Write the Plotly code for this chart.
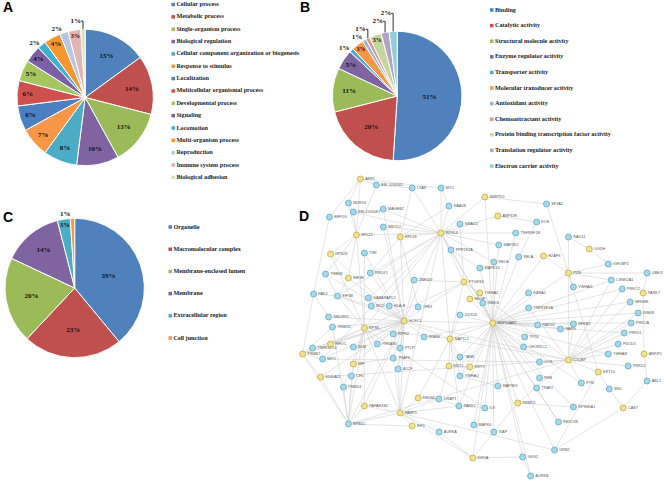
import plotly.graph_objects as go

# ---------------- data ----------------
bp_labels = ["Cellular process", "Metabolic process", "Single-organism process", "Biological regulation",
             "Cellular component organization or biogenesis", "Response to stimulus", "Localization",
             "Multicellular organismal process", "Developmental process", "Signaling", "Locomotion",
             "Multi-organism process", "Reproduction", "Immune system process", "Biological adhesion"]
bp_values = [15, 14, 13, 10, 8, 7, 6, 6, 5, 4, 2, 4, 2, 3, 1]
bp_colors = ["#4F81BD", "#C0504D", "#9BBB59", "#8064A2", "#4BACC6", "#F79646", "#4A7FC1",
             "#CF514E", "#A3C65E", "#7D5FA6", "#3FB0CF", "#F7962E", "#B4C8E6", "#E3B4B4", "#D5E3B8"]

mf_labels = ["Binding", "Catalytic activity", "Structural molecule activity", "Enzyme regulator activity",
             "Transporter activity", "Molecular transducer activity", "Antioxidant activity",
             "Chemoattractant activity", "Protein binding transcription factor activity",
             "Translation regulator activity", "Electron carrier activity"]
mf_values = [51, 20, 11, 5, 1, 3, 1, 1, 3, 2, 2]
mf_colors = ["#4F81BD", "#C0504D", "#9BBB59", "#8064A2", "#4BACC6", "#F79646", "#95B3D7",
             "#D99694", "#C3D69B", "#B3A2C7", "#93CDDD"]

cc_labels = ["Organelle", "Macromolecular complex", "Membrane-enclosed lumen", "Membrane",
             "Extracellular region", "Cell junction"]
cc_values = [39, 23, 20, 14, 3, 1]
cc_colors = ["#4F81BD", "#C0504D", "#9BBB59", "#8064A2", "#4BACC6", "#F79646"]

node_names = ["ARF1", "EBI-1056061", "LYAR", "MYC", "SNRPD1", "SF3A2", "NDRG1", "EBI-1056087", "MAGEB2",
              "NAA38", "EEF1G", "ANP32E", "FOS", "SMYD2", "SMAD2", "TNFRSF1B", "RPL22", "RPL26", "RPS14",
              "RAD51", "UGDH", "MAP3K1", "PPP2R2A", "RELA", "H2AFX", "RELB", "MAPK14", "TNK", "RPS28",
              "PXN", "IGF2BP2", "UBE2I", "TMBIM", "EIF3E", "PRDX1", "ZNF207", "PTGES3", "CSNK2A1",
              "YWHAG", "PRKCZ", "PARK7", "YWHAZ", "EBNA1", "PAK2", "EIF1B", "GABARAPL2", "HDGF", "IKBKG",
              "TNFRSF1A", "NFKBIE", "MCC", "HLA-B", "TFE3", "IKBKB", "SMURF2", "DDX24", "HSP90AB1",
              "HCFC1", "PRKCA", "TRIM32", "RPS6", "RAD50", "NFKB2", "NAPG", "RIPK2", "PRKD1", "IKBKE",
              "NAP1L1", "TP53", "RHOC", "PRKAB1", "CHORDC1", "PDCD5", "TNFRSF14", "BLM", "PTLP", "PSMB7",
              "MPO", "TRAF6", "YWHAB", "C1QBP", "ARFIP1", "PRKD2", "MIF", "TANK", "KRT1", "KRT9", "A1CF",
              "COIL", "KRT10", "YWHAQ", "CH1", "S100A11", "PHB", "FYN", "ABL1", "PSMD4", "MAP3K3", "TRAF2",
              "SRC", "PFDN5", "DRAP1", "PRMT5", "PAFAH1B2", "PARK2", "ILK", "RPS6KA1", "CAST", "FABP5",
              "FBXO38", "EPB41", "EIF1", "MAPK6", "AURKA", "XIAP", "GRB2", "KIF2A", "GSG2", "AURKB"]
node_x = [359, 375, 411, 440, 484, 546, 347, 352, 382, 448, 328, 497, 536, 382, 459, 515, 355, 399, 440,
          568, 589, 498, 450, 518, 543, 493, 479, 363, 329, 568, 608, 647, 324, 347, 369, 413, 463, 611,
          573, 622, 643, 479, 528, 312, 336, 367, 469, 482, 528, 630, 370, 388, 417, 638, 327, 459, 492,
          403, 631, 331, 363, 537, 573, 560, 392, 624, 423, 449, 524, 329, 376, 523, 618, 311, 352, 399, 301,
          321, 392, 608, 568, 644, 628, 352, 459, 448, 469, 397, 539, 598, 459, 350, 319, 539, 581, 647,
          342, 497, 536, 609, 417, 438, 517, 363, 458, 484, 573, 623, 399, 558, 347, 411, 473, 438, 493,
          554, 472, 522, 530]
node_y = [179, 185, 188, 188, 197, 204, 203, 212, 209, 206, 217, 216, 222, 227, 224, 233, 235, 237, 233,
          237, 249, 245, 250, 257, 256, 262, 268, 253, 254, 273, 264, 273, 274, 278, 273, 280, 282, 280,
          287, 289, 293, 293, 293, 294, 296, 298, 299, 303, 308, 302, 306, 306, 307, 313, 317, 315, 323,
          321, 323, 327, 328, 325, 324, 329, 334, 333, 337, 339, 337, 344, 344, 347, 344, 348, 347, 348, 354,
          359, 358, 354, 360, 354, 366, 364, 357, 366, 367, 369, 362, 372, 376, 376, 377, 378, 383, 381,
          387, 386, 388, 389, 398, 399, 403, 406, 406, 408, 407, 408, 413, 422, 424, 426, 425, 432, 432,
          450, 458, 457, 476]
yellow_nodes = ["ARF1", "SNRPD1", "ANP32E", "RPL22", "RPL26", "RPS14", "UGDH", "H2AFX", "RPS28", "PXN",
                "EIF3E", "PTGES3", "PARK7", "YWHAZ", "HDGF", "HSP90AB1", "HCFC1", "RPS6", "NAP1L1", "RHOC",
                "PSMB7", "C1QBP", "ARFIP1", "MIF", "KRT1", "KRT9", "KRT10", "S100A11", "PFDN5", "PRMT5",
                "PAFAH1B2", "CAST", "FABP5", "EIF1", "KIF2A"]

edges = [
    ("ARF1", "EBI-1056061"), ("ARF1", "NDRG1"), ("ARF1", "EEF1G"), ("ARF1", "RPL22"), ("ARF1", "MYC"),
    ("EBI-1056061", "LYAR"), ("EBI-1056061", "RPL22"), ("LYAR", "RPS14"), ("LYAR", "RPL26"),
    ("MYC", "RPS14"), ("MYC", "NAA38"), ("SNRPD1", "SF3A2"), ("SNRPD1", "RPS14"), ("SNRPD1", "HSP90AB1"),
    ("SF3A2", "PXN"), ("ANP32E", "FOS"), ("ANP32E", "RPS14"), ("FOS", "RELA"), ("NAA38", "RPS14"),
    ("NAA38", "RPL26"), ("MAGEB2", "RPS14"), ("MAGEB2", "HCFC1"), ("NDRG1", "RPL22"),
    ("EBI-1056087", "RPL22"), ("EBI-1056087", "RPS14"), ("SMYD2", "RPS14"), ("SMYD2", "HCFC1"),
    ("SMAD2", "RPS14"), ("SMAD2", "PTGES3"), ("EEF1G", "PAK2"), ("TNFRSF1B", "HSP90AB1"),
    ("TNFRSF1B", "RPS14"), ("RPL22", "RPS28"), ("RPL22", "EIF3E"), ("RPL22", "TMBIM"), ("RPL22", "RPS6"),
    ("RPL26", "HCFC1"), ("RPL26", "RPS14"), ("RPL26", "PRDX1"), ("RPL26", "TFE3"),
    ("RPS14", "PRDX1"), ("RPS14", "HCFC1"), ("RPS14", "RPS6"), ("RPS14", "NAP1L1"), ("RPS14", "PTGES3"),
    ("RPS14", "MAP3K1"), ("RPS14", "PPP2R2A"), ("RPS14", "RELB"), ("RPS14", "HSP90AB1"),
    ("RPS14", "EIF1B"), ("RPS14", "GABARAPL2"), ("RPS14", "RPL22"), ("RPS14", "FABP5"), ("RPS14", "MPO"),
    ("RAD51", "UGDH"), ("RAD51", "PXN"), ("UGDH", "IGF2BP2"), ("IGF2BP2", "PXN"), ("PXN", "UBE2I"),
    ("PXN", "YWHAG"), ("PXN", "H2AFX"), ("PXN", "CSNK2A1"), ("PXN", "HSP90AB1"), ("PXN", "C1QBP"),
    ("UBE2I", "PARK7"), ("H2AFX", "HSP90AB1"), ("RELA", "HSP90AB1"), ("RELB", "HSP90AB1"),
    ("MAP3K1", "HSP90AB1"), ("MAPK14", "HSP90AB1"), ("PPP2R2A", "HSP90AB1"), ("PPP2R2A", "MAPK14"),
    ("CSNK2A1", "HSP90AB1"), ("CSNK2A1", "C1QBP"), ("PRKCZ", "HSP90AB1"), ("PRKCZ", "C1QBP"),
    ("PARK7", "ARFIP1"), ("NFKBIE", "HSP90AB1"), ("NFKBIE", "C1QBP"), ("IKBKB", "HSP90AB1"),
    ("IKBKB", "C1QBP"), ("PRKCA", "HSP90AB1"), ("PRKCA", "C1QBP"), ("PRKD1", "C1QBP"),
    ("PRKD1", "HSP90AB1"), ("PDCD5", "C1QBP"), ("YWHAB", "C1QBP"), ("YWHAB", "HSP90AB1"),
    ("PRKD2", "C1QBP"), ("ARFIP1", "ABL1"), ("ABL1", "CAST"), ("CAST", "SRC"), ("CAST", "GRB2"),
    ("SRC", "KRT10"), ("KRT10", "C1QBP"), ("KRT10", "PXN"), ("FYN", "C1QBP"), ("FYN", "HSP90AB1"),
    ("EBNA1", "HSP90AB1"), ("TNFRSF1A", "HSP90AB1"), ("TNFRSF1A", "C1QBP"), ("NFKB2", "HSP90AB1"),
    ("NFKB2", "C1QBP"), ("NAPG", "HSP90AB1"), ("RAD50", "HSP90AB1"), ("TP53", "HSP90AB1"),
    ("CHORDC1", "HSP90AB1"), ("COIL", "HSP90AB1"), ("COIL", "C1QBP"), ("PHB", "HSP90AB1"),
    ("TRAF2", "HSP90AB1"), ("MAP3K3", "HSP90AB1"), ("PRMT5", "HSP90AB1"), ("RPS6KA1", "HSP90AB1"),
    ("RPS6KA1", "PRMT5"), ("FBXO38", "HSP90AB1"), ("GRB2", "HSP90AB1"), ("GSG2", "HSP90AB1"),
    ("AURKB", "HSP90AB1"), ("KIF2A", "HSP90AB1"), ("XIAP", "HSP90AB1"), ("MAPK6", "HSP90AB1"),
    ("ILK", "HSP90AB1"), ("PARK2", "HSP90AB1"), ("YWHAQ", "HSP90AB1"), ("KRT9", "HSP90AB1"),
    ("TANK", "HSP90AB1"), ("DDX24", "HSP90AB1"), ("IKBKG", "HSP90AB1"), ("HDGF", "HSP90AB1"),
    ("YWHAZ", "HSP90AB1"), ("PTGES3", "HSP90AB1"), ("NAP1L1", "HSP90AB1"), ("HCFC1", "HSP90AB1"),
    ("IKBKE", "HSP90AB1"), ("GSG2", "KIF2A"), ("GSG2", "AURKB"), ("KIF2A", "FABP5"), ("KIF2A", "AURKA"),
    ("EIF1", "EPB41"), ("EIF1", "FABP5"), ("EPB41", "PAFAH1B2"), ("EPB41", "PSMD4"), ("EPB41", "S100A11"),
    ("EPB41", "PSMB7"), ("EPB41", "FABP5"), ("EPB41", "RPS6"), ("EPB41", "MIF"), ("EPB41", "CH1"),
    ("EPB41", "HCFC1"), ("EPB41", "TRIM32"), ("FABP5", "HCFC1"), ("FABP5", "PFDN5"), ("FABP5", "DRAP1"),
    ("FABP5", "PARK2"), ("FABP5", "TRAF6"), ("FABP5", "A1CF"), ("FABP5", "RPS6"), ("FABP5", "PAFAH1B2"),
    ("FABP5", "GRB2"), ("FABP5", "AURKA"), ("PSMB7", "TNFRSF14"), ("PSMB7", "PAK2"), ("PSMB7", "S100A11"),
    ("PSMB7", "MPO"), ("PSMB7", "TRIM32"), ("PSMB7", "HCFC1"), ("PAK2", "EIF1B"), ("PAK2", "SMURF2"),
    ("TMBIM", "EIF1B"), ("TMBIM", "HCFC1"), ("EIF3E", "EIF1B"), ("EIF3E", "HCFC1"), ("EIF1B", "HCFC1"),
    ("EIF1B", "RPS6"), ("EIF1B", "MCC"), ("SMURF2", "HCFC1"), ("TRIM32", "HCFC1"), ("RPS6", "HCFC1"),
    ("RPS6", "PRKAB1"), ("RHOC", "HCFC1"), ("RHOC", "RPS6"), ("TNFRSF14", "HCFC1"), ("BLM", "HCFC1"),
    ("MPO", "HCFC1"), ("MIF", "HCFC1"), ("MIF", "TRAF6"), ("S100A11", "HCFC1"), ("CH1", "RPS6"),
    ("PSMD4", "RPS6"), ("PAFAH1B2", "HCFC1"), ("PAFAH1B2", "RPS6"), ("GABARAPL2", "HCFC1"),
    ("MCC", "HCFC1"), ("HLA-B", "HCFC1"), ("TFE3", "HCFC1"), ("ZNF207", "HCFC1"), ("PRDX1", "HCFC1"),
    ("TNK", "HCFC1"), ("TNK", "RPS6"), ("RPS28", "RPS6"), ("RPS28", "HCFC1"), ("RIPK2", "HCFC1"),
    ("PRKAB1", "HCFC1"), ("PTLP", "HCFC1"), ("TRAF6", "HCFC1"), ("A1CF", "HCFC1"), ("IKBKE", "HCFC1"),
    ("HCFC1", "NAP1L1"), ("HCFC1", "PTGES3"), ("HCFC1", "C1QBP"), ("NAP1L1", "PTGES3"),
    ("NAP1L1", "KRT1"), ("NAP1L1", "TANK"), ("NAP1L1", "YWHAQ"), ("NAP1L1", "DDX24"), ("NAP1L1", "C1QBP"),
    ("NAP1L1", "PFDN5"), ("NAP1L1", "PARK2"), ("NAP1L1", "RPS6"), ("PTGES3", "ZNF207"),
    ("PTGES3", "YWHAZ"), ("PTGES3", "RPS6"), ("PTGES3", "C1QBP"), ("KRT1", "KRT9"), ("KRT9", "YWHAQ"),
    ("KRT1", "DRAP1"), ("PFDN5", "DRAP1"), ("DRAP1", "PARK2"), ("PARK2", "ILK"), ("PRMT5", "KIF2A"),
    ("PRMT5", "C1QBP"), ("FBXO38", "TRAF2"), ("S100A11", "C1QBP"), ("MPO", "COIL"), ("PSMB7", "RPS6"),
    ("EPB41", "C1QBP"), ("ILK", "RPS6"), ("YWHAQ", "MAP3K3"), ("GRB2", "KRT10"),
]

# ---------------- figure ----------------
W, H = 665, 482
fig = go.Figure()

def dom(x0, x1, y0, y1):
    return dict(x=[x0 / W, x1 / W], y=[1 - y1 / H, 1 - y0 / H])

pie_font = dict(family="Liberation Serif", size=7, color="#111111")

def add_pie(labels, values, colors, domain, positions):
    fig.add_trace(go.Pie(
        labels=labels, values=values, sort=False, direction="clockwise", rotation=0,
        marker=dict(colors=colors, line=dict(color="white", width=1)),
        texttemplate="<b>%{value}%</b>", textposition=positions,
        insidetextorientation="horizontal",
        insidetextfont=pie_font, outsidetextfont=pie_font,
        domain=domain, hoverinfo="skip", showlegend=False))

add_pie(bp_labels, bp_values, bp_colors, dom(14, 151, 29, 166),
        ["inside" if v > 2 else "outside" for v in bp_values])
add_pie(mf_labels, mf_values, mf_colors, dom(331, 461, 31, 161),
        ["inside" if v > 2 else "outside" for v in mf_values])
add_pie(cc_labels, cc_values, cc_colors, dom(2, 142, 218, 358),
        ["inside" if v > 1 else "outside" for v in cc_values])

legend_font = dict(family="Liberation Serif", size=6.2, color="#222222")

def add_legend(labels, colors, x, y0, step):
    fig.add_trace(go.Scatter(
        x=[x] * len(labels), y=[y0 + i * step for i in range(len(labels))],
        mode="markers+text", text=["<b>" + l + "</b>" for l in labels],
        textposition="middle right", textfont=legend_font,
        marker=dict(symbol="square", size=3.5, color=colors),
        hoverinfo="skip", showlegend=False, cliponaxis=False))

add_legend(bp_labels, bp_colors, 171, 4.5, 12.35)
add_legend(mf_labels, mf_colors, 491, 10, 15.6)
add_legend(cc_labels, cc_colors, 168, 227, 22.2)

# network edges
pos = {n: (x, y) for n, x, y in zip(node_names, node_x, node_y)}
ex, ey = [], []
for a, b in edges:
    ex += [pos[a][0], pos[b][0], None]
    ey += [pos[a][1], pos[b][1], None]
fig.add_trace(go.Scatter(x=ex, y=ey, mode="lines", line=dict(color="#cdcdcd", width=0.55),
                         hoverinfo="skip", showlegend=False))

for kind, fill, edge in [("b", "#A6DAEA", "#5FA9C6"), ("y", "#F2E38E", "#C4AA45")]:
    sel = [i for i, n in enumerate(node_names) if (n in yellow_nodes) == (kind == "y")]
    fig.add_trace(go.Scatter(
        x=[node_x[i] for i in sel], y=[node_y[i] for i in sel],
        mode="markers+text", text=[node_names[i] for i in sel],
        textposition="middle right", textfont=dict(family="Liberation Sans", size=3.8, color="#555555"),
        marker=dict(size=6, color=fill, line=dict(color=edge, width=0.8)),
        hoverinfo="skip", showlegend=False, cliponaxis=False))

for letter, x, y in [("A", 5, 7), ("B", 303, 7), ("C", 5, 217), ("D", 302, 216)]:
    fig.add_annotation(x=x, y=y, xref="x", yref="y", text="<b>" + letter + "</b>", showarrow=False,
                       font=dict(family="Liberation Sans", size=14, color="black"))

fig.update_layout(
    width=W, height=H, margin=dict(l=0, r=0, t=0, b=0),
    paper_bgcolor="white", plot_bgcolor="white", showlegend=False,
    xaxis=dict(range=[0, W], visible=False, domain=[0, 1], fixedrange=True),
    yaxis=dict(range=[H, 0], visible=False, domain=[0, 1], fixedrange=True),
)
fig.write_html("out.html", config={"displayModeBar": False},
               post_script="document.body.style.margin='0';document.body.style.overflow='hidden';")
